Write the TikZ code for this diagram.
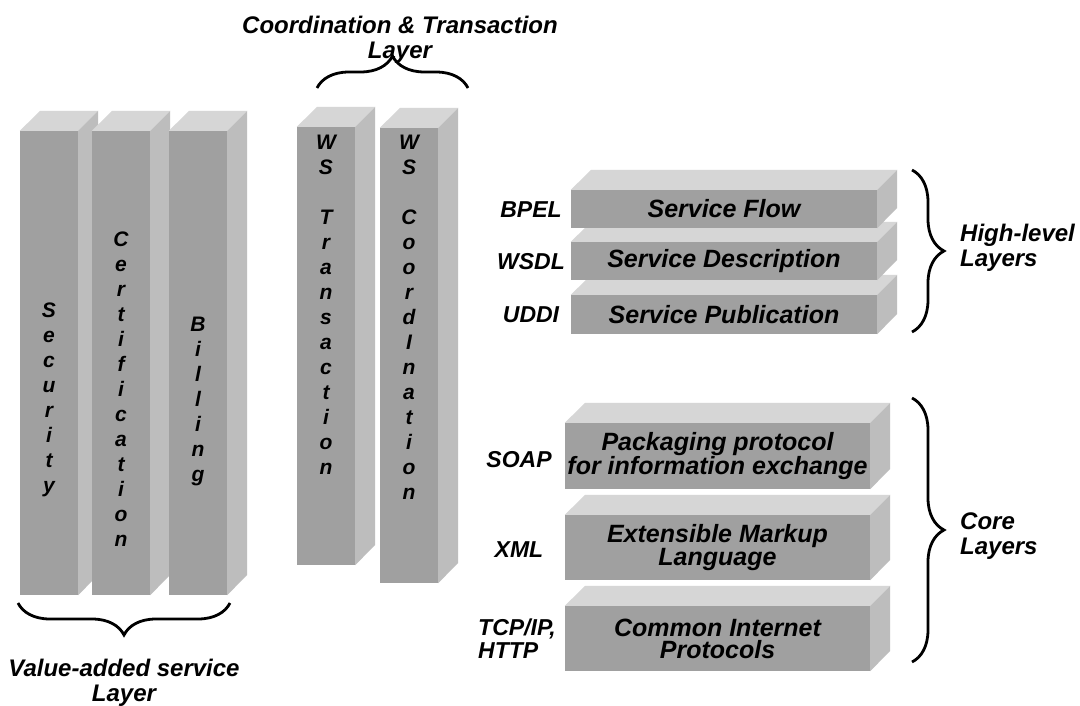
\documentclass[tikz,border=0pt]{standalone}
\usepackage{fontspec}
\setmainfont{Liberation Sans}
\usetikzlibrary{decorations.pathreplacing}
\definecolor{frontgray}{RGB}{160,160,160}
\definecolor{topgray}{RGB}{214,214,214}
\definecolor{sidegray}{RGB}{189,189,189}
\newcommand{\layerbox}[6]{%
\node [frontface, minimum width=#4pt, minimum height=#5pt] (#1) at (#2+#4/2,#3+#5/2) {#6};
\fill [topgray] (#1.north west) -- (#1.north east) -- ++(20,-20) -- ++(-#4,0) -- cycle;
\fill [sidegray] (#1.north east) -- ++(20,-20) -- ++(0,#5) -- (#1.south east) -- cycle;}
\begin{document}
\begin{tikzpicture}
[x = 1pt, y = -1pt,
frontface/.style = {fill = frontgray, inner sep = 0pt, align = center, font = \fontsize{25}{22}\selectfont\bfseries\itshape},
coltext/.style = {inner sep = 0pt, align = center, anchor = north, font = \fontsize{21}{25}\selectfont\bfseries\itshape},
tag/.style = {inner sep = 0pt, align = left, font = \fontsize{23}{23}\selectfont\bfseries\itshape},
title/.style = {inner sep = 0pt, font = \fontsize{24}{25}\selectfont\bfseries\itshape},
layerbrace/.style = {decorate, decoration = {brace, amplitude = 32pt}, line width = 2.8pt},
]
\fill [white] (0,0) rectangle (1080,706);
\useasboundingbox (0,0) rectangle (1080,706);
\layerbox{security}{20}{131}{58}{464}{}
\layerbox{certification}{92}{131}{58}{464}{}
\layerbox{billing}{169}{131}{58}{464}{}
\layerbox{transaction}{297}{127}{58}{438}{}
\layerbox{coordination}{380}{128}{58}{455}{}
\node [coltext] (securitytext) at (49,303) {S\\e\\c\\u\\r\\i\\t\\y};
\node [coltext] (certificationtext) at (121,232) {C\\e\\r\\t\\i\\f\\i\\c\\a\\t\\i\\o\\n};
\node [coltext] (billingtext) at (198,317) {B\\i\\l\\l\\i\\n\\g};
\node [coltext] (transactiontext) at (326,135) {W\\S\\[25pt]T\\r\\a\\n\\s\\a\\c\\t\\i\\o\\n};
\node [coltext] (coordinationtext) at (409,135) {W\\S\\[25pt]C\\o\\o\\r\\d\\I\\n\\a\\t\\i\\o\\n};
\layerbox{publication}{571}{295}{306}{39}{Service Publication}
\layerbox{description}{571}{242}{306}{38}{Service Description}
\layerbox{flow}{571}{190}{306}{38}{Service Flow}
\layerbox{packaging}{565}{423}{305}{66}{Packaging protocol\\for information exchange}
\layerbox{markup}{565}{515}{305}{65}{Extensible Markup\\Language}
\layerbox{internet}{565}{606}{305}{65}{Common Internet\\Protocols}
\node [tag] (bpel) at (531,210) {BPEL};
\node [tag] (wsdl) at (531,262) {WSDL};
\node [tag] (uddi) at (531,315) {UDDI};
\node [tag] (soap) at (519,460) {SOAP};
\node [tag] (xml) at (519,550) {XML};
\node [tag] (tcpip) at (517,639) {TCP/IP,\\HTTP};
\coordinate (coordleft) at (317,88);
\coordinate (coordright) at (468,88);
\coordinate (valueright) at (230,603);
\coordinate (valueleft) at (18,603);
\coordinate (hightop) at (912,170);
\coordinate (highbottom) at (912,332);
\coordinate (coretop) at (912,398);
\coordinate (corebottom) at (912,662);
\draw [layerbrace] (coordleft) -- (coordright);
\draw [layerbrace] (valueright) -- (valueleft);
\draw [layerbrace] (hightop) -- (highbottom);
\draw [layerbrace] (coretop) -- (corebottom);
\node [title, align = center, anchor = north] (coordtitle) at (400,16) {Coordination \& Transaction\\Layer};
\node [title, align = center, anchor = north] (valuetitle) at (124,659) {Value-added service\\Layer};
\node [title, align = left, anchor = north west] (hightitle) at (960,224) {High-level\\Layers};
\node [title, align = left, anchor = north west] (coretitle) at (960,513) {Core\\Layers};
\end{tikzpicture}
\end{document}
